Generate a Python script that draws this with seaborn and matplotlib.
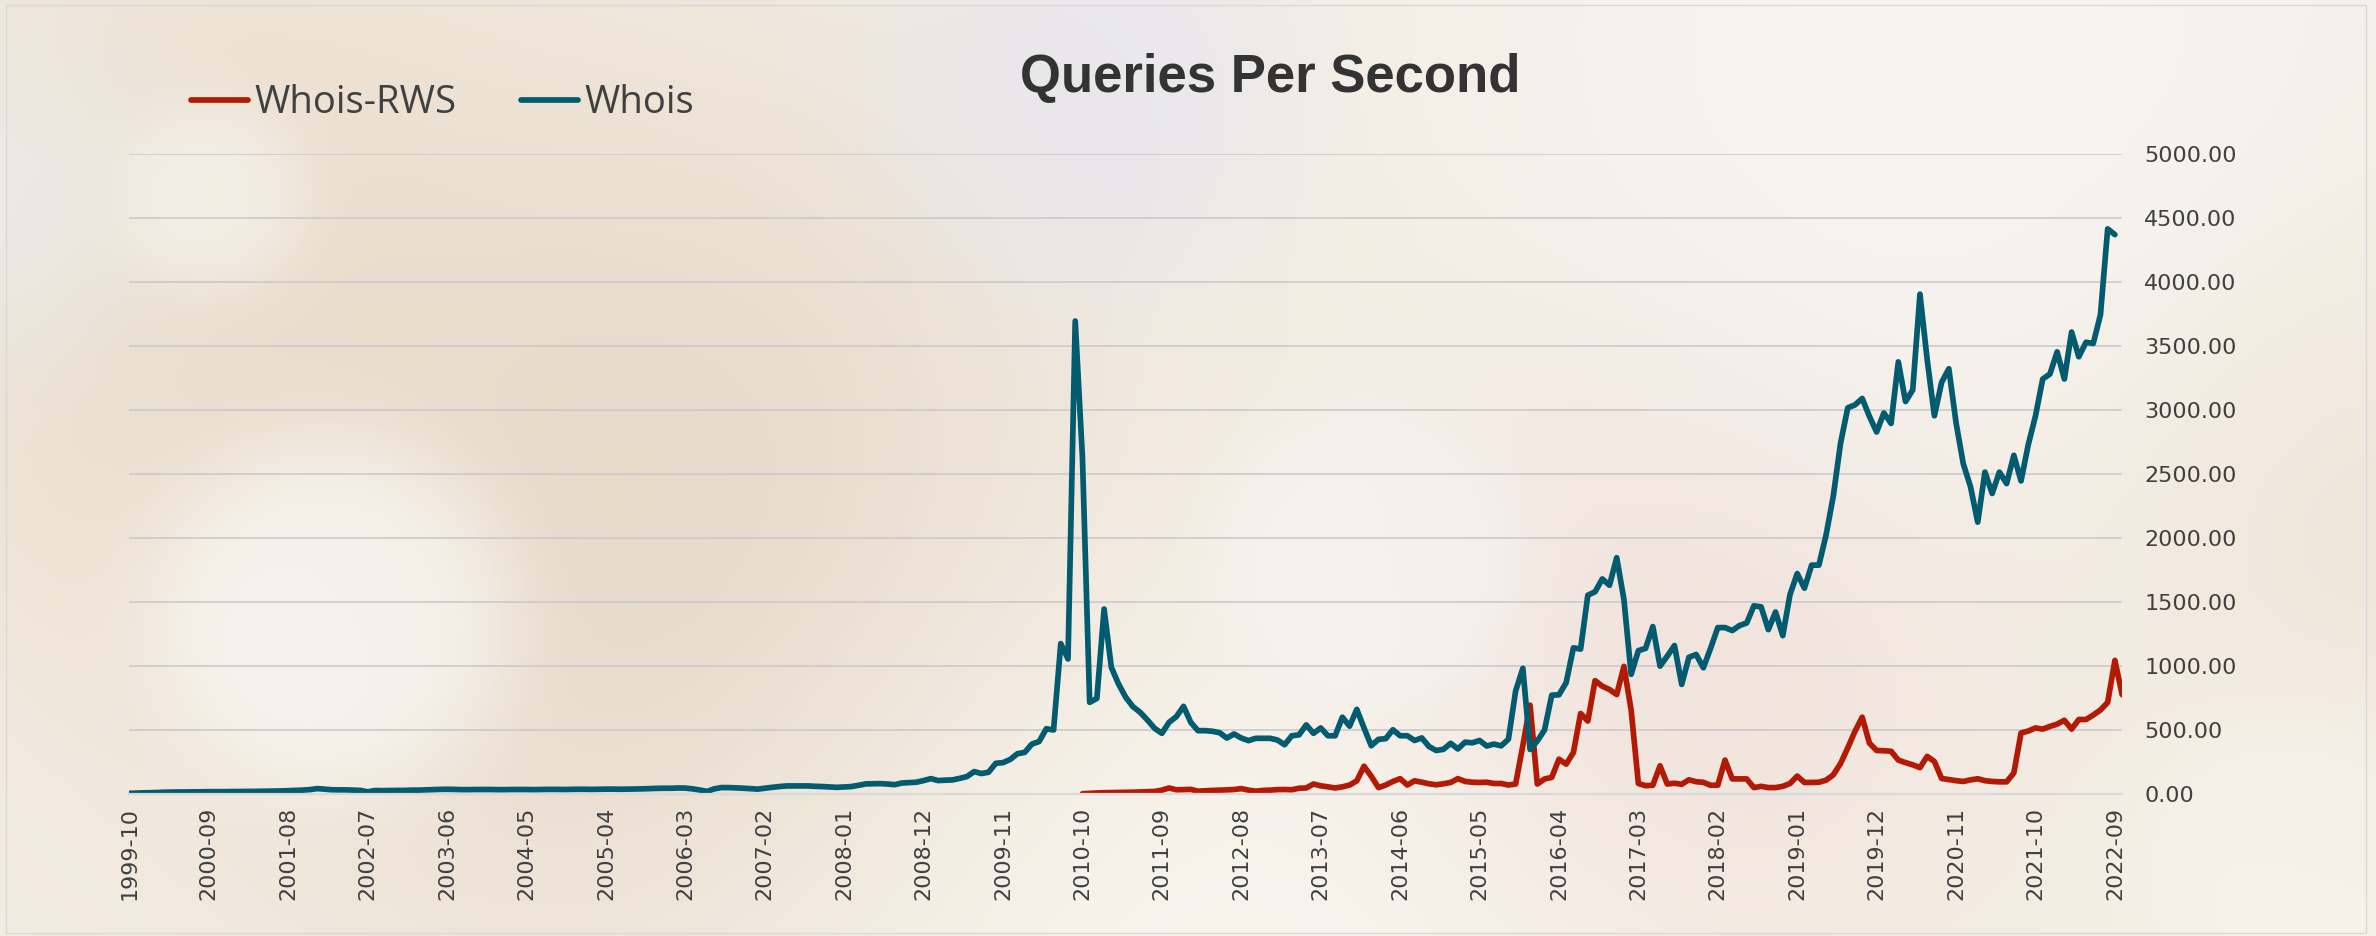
import numpy as np
import pandas as pd
import matplotlib
matplotlib.use("Agg")
import matplotlib.pyplot as plt
import matplotlib.patches as patches
import seaborn as sns

# -----------------------------
# 1. DATA (monthly queries per second)
# -----------------------------
months = pd.period_range("1999-10", periods=277, freq="M").strftime("%Y-%m").tolist()

whois = [
    5, 7, 9, 10, 12, 14, 15, 16, 16, 17, 17, 18, 18, 18, 19, 19, 20, 20, 21, 22,
    23, 24, 26, 28, 30, 34, 42, 38, 33, 32, 32, 30, 28, 17, 27, 26, 27, 28, 28, 30,
    30, 32, 34, 36, 37, 36, 34, 34, 35, 35, 35, 34, 34, 35, 35, 35, 34, 35, 36, 36,
    35, 36, 37, 37, 36, 37, 38, 38, 37, 38, 39, 40, 42, 44, 45, 45, 47, 46, 40, 31,
    20, 40, 50, 50, 48, 45, 42, 38, 45, 52, 58, 63, 63, 63, 63, 60, 58, 55, 52, 55,
    58, 68, 79, 80, 81, 78, 73, 86, 89, 92, 105, 120, 105, 108, 110, 122, 136, 175, 160, 170,
    240, 245, 270, 315, 325, 390, 410, 510, 500, 1175, 1055, 3695, 2630, 716, 747, 1445, 990, 859, 755, 682,
    638, 578, 513, 474, 560, 604, 685, 560, 495, 495, 490, 479, 437, 469, 437, 417, 435, 435, 435, 422,
    385, 455, 462, 540, 474, 516, 455, 455, 600, 530, 661, 516, 377, 427, 432, 502, 455, 455, 418, 438,
    371, 340, 349, 396, 352, 405, 400, 418, 375, 390, 376, 428, 805, 982, 348, 414, 500, 772, 775, 870,
    1142, 1132, 1553, 1580, 1680, 1631, 1846, 1518, 935, 1120, 1138, 1308, 999, 1077, 1160, 856, 1068, 1090, 986, 1138,
    1300, 1300, 1277, 1316, 1336, 1470, 1462, 1284, 1422, 1237, 1558, 1722, 1608, 1788, 1788, 2024, 2329, 2740, 3017, 3040,
    3090, 2950, 2828, 2977, 2895, 3376, 3066, 3157, 3905, 3394, 2955, 3216, 3322, 2900, 2580, 2401, 2124, 2515, 2348, 2515,
    2425, 2646, 2446, 2729, 2953, 3242, 3281, 3454, 3242, 3609, 3416, 3529, 3520, 3744, 4415, 4370,
]

# Whois-RWS starts in 2010-10 (month index 132)
rws_start = 132
whois_rws = [
    2, 5, 8, 10, 11, 12, 13, 14, 16, 18, 20, 30, 47, 33, 34, 36, 22, 25, 28, 30,
    32, 35, 42, 30, 22, 28, 30, 34, 35, 33, 45, 47, 78, 64, 56, 47, 56, 70, 103, 217,
    139, 50, 70, 98, 120, 70, 103, 92, 80, 72, 80, 90, 120, 98, 92, 90, 92, 82, 82, 70,
    78, 380, 694, 78, 117, 130, 272, 233, 324, 629, 570, 886, 842, 816, 777, 997, 655, 82, 65, 68,
    220, 78, 84, 76, 111, 96, 91, 68, 69, 265, 118, 118, 118, 50, 60, 50, 50, 60, 82, 140,
    90, 90, 92, 108, 150, 238, 360, 490, 600, 397, 340, 338, 334, 265, 245, 228, 206, 294, 254, 121,
    113, 104, 98, 110, 119, 104, 98, 95, 95, 164, 477, 492, 516, 507, 528, 546, 576, 507, 582, 582,
    617, 656, 716, 1044, 776,
]

df_whois = pd.DataFrame({"idx": np.arange(len(whois)), "qps": whois})
df_rws = pd.DataFrame({"idx": np.arange(rws_start, rws_start + len(whois_rws)), "qps": whois_rws})

teal = "#025B6E"
red = "#B31A05"
text_col = "#404040"

# -----------------------------
# 2. FIGURE + SOFT BOKEH BACKGROUND
# -----------------------------
sns.set_style("white")
plt.rcParams["font.family"] = ["DejaVu Sans"]

W, H = 2376, 936
fig = plt.figure(figsize=(W / 100, H / 100), dpi=100)

yy, xx = np.mgrid[0:H:4, 0:W:4].astype(float)
img = np.ones(xx.shape + (3,)) * np.array([244, 238, 228]) / 255.0


def glow(cx, cy, r, rgb, s):
    global img
    w = s * np.exp(-((xx - cx) ** 2 + (yy - cy) ** 2) / (2 * r ** 2))
    img = img * (1 - w[..., None]) + np.array(rgb)[None, None, :] / 255.0 * w[..., None]


def disk(cx, cy, r, rgb, s, soft=25):
    global img
    d = np.sqrt((xx - cx) ** 2 + (yy - cy) ** 2)
    w = s / (1 + np.exp((d - r) / soft))
    img = img * (1 - w[..., None]) + np.array(rgb)[None, None, :] / 255.0 * w[..., None]


glow(700, 560, 330, (220, 201, 180), 0.65)
glow(160, 260, 280, (228, 212, 190), 0.55)
glow(1650, 660, 220, (232, 206, 201), 0.55)
glow(1950, 60, 320, (248, 248, 248), 0.7)
glow(1200, 960, 380, (252, 250, 245), 0.6)
glow(2376, 520, 200, (236, 222, 206), 0.45)
glow(0, 200, 120, (236, 241, 246), 0.5)
disk(330, 615, 175, (251, 249, 246), 0.7)
disk(210, 195, 88, (249, 246, 242), 0.6, soft=18)
disk(1090, 90, 190, (229, 230, 240), 0.65, soft=35)
disk(1365, 555, 150, (247, 244, 241), 0.65, soft=18)
disk(2300, 860, 160, (250, 248, 244), 0.4)

bg = fig.add_axes([0, 0, 1, 1], zorder=0)
bg.imshow(np.clip(img, 0, 1), aspect="auto", interpolation="bilinear", extent=[0, 1, 0, 1])
bg.set_axis_off()
fig.add_artist(patches.Rectangle((6 / W, 3 / H), 2360 / W, 928 / H, transform=fig.transFigure,
                                 fill=False, edgecolor="#D8D8D8", linewidth=1.0))

# -----------------------------
# 3. LINE CHART
# -----------------------------
x0, x1 = 129.4, 129.4 + 7.22 * 276
ax = fig.add_axes([x0 / W, (H - 794) / H, (x1 - x0) / W, 640 / H], zorder=1)
ax.patch.set_alpha(0)

sns.lineplot(data=df_rws, x="idx", y="qps", ax=ax, color=red, linewidth=4.1, label="Whois-RWS",
             solid_joinstyle="round", solid_capstyle="round")
sns.lineplot(data=df_whois, x="idx", y="qps", ax=ax, color=teal, linewidth=4.1, label="Whois",
             solid_joinstyle="round", solid_capstyle="round")

ax.set_xlim(0, 276)
ax.set_ylim(0, 5000)
ax.set_yticks(np.arange(0, 5001, 500))
ax.set_yticklabels([f"{v:.2f}" for v in np.arange(0, 5001, 500)])
ax.yaxis.tick_right()
ax.yaxis.grid(True, color="#C7C7CC", linewidth=1.1)
ax.set_axisbelow(True)

tick_pos = list(range(0, 276, 11))
ax.set_xticks(tick_pos)
ax.set_xticklabels([months[i] for i in tick_pos], rotation=90)

ax.tick_params(axis="y", length=0, pad=16, labelsize=16, labelcolor=text_col)
ax.tick_params(axis="x", length=0, pad=9, labelsize=16, labelcolor=text_col)
for s in ["top", "right", "left"]:
    ax.spines[s].set_visible(False)
ax.spines["bottom"].set_color("#D9D9D9")
ax.spines["bottom"].set_linewidth(1.6)
ax.set_xlabel("")
ax.set_ylabel("")

# legend along the top left
handles, labels = ax.get_legend_handles_labels()
ax.get_legend().remove()
fig.legend(handles, labels, loc="center left", bbox_to_anchor=(172 / W, 1 - 103 / H), ncol=2,
           frameon=False, handlelength=1.5, handletextpad=0.15, columnspacing=1.7, borderpad=0,
           prop={"family": ["Open Sans", "DejaVu Sans"], "size": 27.5}, labelcolor=text_col)

fig.text(1270 / W, 1 - 92 / H, "Queries Per Second", ha="center", va="baseline",
         fontsize=38, fontweight="bold", color="#333333", family=["Liberation Sans", "DejaVu Sans"])

fig.savefig("out.png", dpi=100)
